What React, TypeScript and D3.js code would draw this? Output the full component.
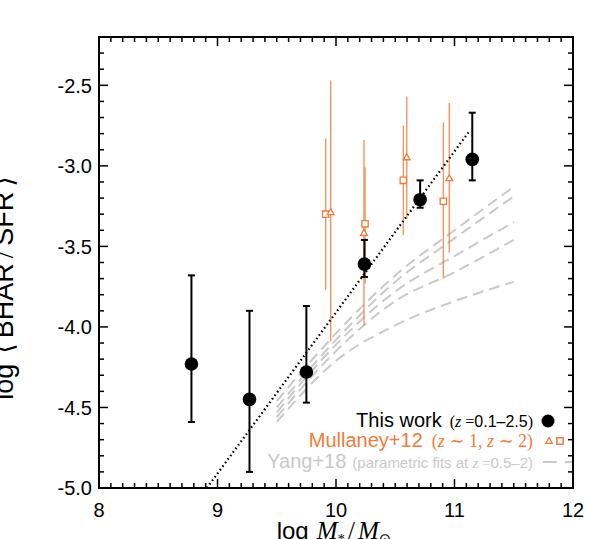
import React from "react";
import * as d3 from "d3";

const W = 598;
const H = 539;
const box = { left: 99, right: 573, top: 37, bottom: 488 };

// this work (z = 0.1-2.5)
const massBins = [8.78, 9.27, 9.75, 10.24, 10.71, 11.15];
const ratio = [-4.23, -4.45, -4.28, -3.61, -3.21, -2.96];
const ratioHi = [-3.68, -3.9, -3.87, -3.46, -3.09, -2.67];
const ratioLo = [-4.59, -4.9, -4.47, -3.69, -3.26, -3.09];

// Mullaney+12, z~1 (triangles)
const mulZ1Mass = [9.955, 10.236, 10.597, 10.956];
const mulZ1 = [-3.29, -3.42, -2.95, -3.08];
const mulZ1Hi = [-2.47, -2.84, -2.57, -2.61];
const mulZ1Lo = [-4.09, -3.99, -3.33, -3.54];

// Mullaney+12, z~2 (squares)
const mulZ2Mass = [9.913, 10.245, 10.568, 10.906];
const mulZ2 = [-3.3, -3.36, -3.09, -3.22];
const mulZ2Hi = [-2.83, -3.01, -2.75, -2.73];
const mulZ2Lo = [-3.77, -3.73, -3.43, -3.7];

// Yang+18 parametric fits, z = 0.5-2
const yangMass = [9.5, 10.0, 10.5, 11.0, 11.5];
const yangFits = [
  [-4.46, -4.04, -3.68, -3.4, -3.13],
  [-4.5, -4.08, -3.72, -3.45, -3.19],
  [-4.53, -4.11, -3.78, -3.56, -3.35],
  [-4.56, -4.15, -3.84, -3.66, -3.46],
  [-4.59, -4.21, -3.99, -3.84, -3.72],
];

// dotted one-to-one line
const fitMass = [8.91, 11.13];
const fitRatio = [-5.0, -2.78];

const xMajor = [8, 9, 10, 11, 12];
const yMajor = [-5.0, -4.5, -4.0, -3.5, -3.0, -2.5];

const ORANGE = "#f47a38";
const GRAY = "#c9c9c9";
const SANS = "'Liberation Sans', Arial, Helvetica, sans-serif";
const SERIF = "'Liberation Serif', 'DejaVu Serif', serif";

export default function App() {
  const x = d3.scaleLinear().domain([8, 12]).range([box.left, box.right]);
  const y = d3.scaleLinear().domain([-5, -2.2]).range([box.bottom, box.top]);

  const xMinor = x.ticks(40);
  const yMinor = y.ticks(28);

  const line = d3
    .line<number>()
    .x((d, i) => x(yangMass[i]))
    .y((d) => y(d))
    .curve(d3.curveMonotoneX);

  const dotted = d3
    .line<number>()
    .x((d, i) => x(fitMass[i]))
    .y((d) => y(d));

  const tri = d3.symbol().type(d3.symbolTriangle).size(20)();
  const sq = d3.symbol().type(d3.symbolSquare).size(40)();

  const isMajor = (v: number, arr: number[]) => arr.some((m) => Math.abs(m - v) < 1e-6);

  return (
    <svg width={W} height={H} style={{ position: "absolute", left: 0, top: 0, background: "#fff" }}>
      {/* Yang+18 */}
      <g fill="none" stroke={GRAY} strokeWidth={2} strokeDasharray="11 6">
        {yangFits.map((f, i) => (
          <path key={i} d={line(f) || ""} />
        ))}
      </g>

      {/* Mullaney+12 */}
      <g stroke={ORANGE} strokeWidth={1.4} strokeOpacity={0.8}>
        {mulZ2Mass.map((m, i) => (
          <line key={"e2" + i} x1={x(m)} x2={x(m)} y1={y(mulZ2Hi[i])} y2={y(mulZ2Lo[i])} />
        ))}
        {mulZ1Mass.map((m, i) => (
          <line key={"e1" + i} x1={x(m)} x2={x(m)} y1={y(mulZ1Hi[i])} y2={y(mulZ1Lo[i])} />
        ))}
      </g>
      <g fill="#fff" stroke={ORANGE} strokeWidth={1.3}>
        {mulZ2Mass.map((m, i) => (
          <path key={"s" + i} d={sq || ""} transform={`translate(${x(m)},${y(mulZ2[i])})`} />
        ))}
        {mulZ1Mass.map((m, i) => (
          <path key={"t" + i} d={tri || ""} transform={`translate(${x(m)},${y(mulZ1[i])})`} />
        ))}
      </g>

      {/* this work */}
      <g stroke="#000" strokeWidth={2}>
        {massBins.map((m, i) => (
          <g key={i}>
            <line x1={x(m)} x2={x(m)} y1={y(ratioHi[i])} y2={y(ratioLo[i])} />
            <line x1={x(m) - 3.5} x2={x(m) + 3.5} y1={y(ratioHi[i])} y2={y(ratioHi[i])} />
            <line x1={x(m) - 3.5} x2={x(m) + 3.5} y1={y(ratioLo[i])} y2={y(ratioLo[i])} />
          </g>
        ))}
      </g>
      {massBins.map((m, i) => (
        <circle key={i} cx={x(m)} cy={y(ratio[i])} r={6.8} fill="#000" />
      ))}

      <path d={dotted(fitRatio) || ""} fill="none" stroke="#000" strokeWidth={2.2} strokeDasharray="1.6 2.8" />

      {/* frame + ticks */}
      <rect x={box.left} y={box.top} width={box.right - box.left} height={box.bottom - box.top} fill="none" stroke="#000" strokeWidth={2} />
      <g stroke="#000" strokeWidth={1.5}>
        {xMinor.map((v) => {
          const len = isMajor(v, xMajor) ? 9 : 5;
          return (
            <g key={"x" + v}>
              <line x1={x(v)} x2={x(v)} y1={box.bottom} y2={box.bottom - len} />
              <line x1={x(v)} x2={x(v)} y1={box.top} y2={box.top + len} />
            </g>
          );
        })}
        {yMinor.map((v) => {
          const len = isMajor(v, yMajor) ? 9 : 5;
          return (
            <g key={"y" + v}>
              <line x1={box.left} x2={box.left + len} y1={y(v)} y2={y(v)} />
              <line x1={box.right} x2={box.right - len} y1={y(v)} y2={y(v)} />
            </g>
          );
        })}
      </g>

      <g fontFamily={SANS} fontSize={20} fill="#000">
        {xMajor.map((v) => (
          <text key={v} x={x(v)} y={517} textAnchor="middle">
            {v}
          </text>
        ))}
        {yMajor.map((v) => (
          <text key={v} x={92} y={y(v)} dy="0.36em" textAnchor="end">
            {v.toFixed(1)}
          </text>
        ))}
      </g>

      {/* axis titles */}
      <text x={334} y={539} textAnchor="middle" fontFamily={SANS} fontSize={24}>
        log
        <tspan dx={8} fontFamily={SERIF} fontStyle="italic" fontSize={25}>M</tspan>
        <tspan fontSize={15} dy={5} fontFamily={SERIF}>*</tspan>
        <tspan dy={-5} dx={3} fontFamily={SERIF} fontSize={25}>/</tspan>
        <tspan dx={3} fontFamily={SERIF} fontStyle="italic" fontSize={25}>M</tspan>
        <tspan fontSize={15} dy={5} fontFamily="'DejaVu Sans'">⊙</tspan>
      </text>
      <text transform="translate(13,288) rotate(-90)" textAnchor="middle" fontFamily={SANS} fontSize={27}>
        log
        <tspan dx={10} fontFamily="'DejaVu Sans'">⟨</tspan>
        <tspan dx={5}>BHAR</tspan>
        <tspan dx={5} fontFamily={SERIF}>/</tspan>
        <tspan dx={5}>SFR</tspan>
        <tspan dx={5} fontFamily="'DejaVu Sans'">⟩</tspan>
      </text>

      {/* legend */}
      <text x={533} y={427} textAnchor="end" fontFamily={SANS} fontSize={20} fill="#000">
        This work
        <tspan dx={8} fontSize={16} fontFamily={SERIF}>(</tspan>
        <tspan fontSize={16} fontFamily={SERIF} fontStyle="italic">z</tspan>
        <tspan fontSize={16} fontFamily={SERIF}> =</tspan>
        <tspan fontSize={16}>0.1–2.5</tspan>
        <tspan fontSize={16} fontFamily={SERIF}>)</tspan>
      </text>
      <circle cx={548} cy={421} r={6.5} fill="#000" />

      <text x={533} y={447} textAnchor="end" fontFamily={SANS} fontSize={20} fill={ORANGE}>
        Mullaney+12
        <tspan dx={9} fontSize={18} fontFamily={SERIF}>(</tspan>
        <tspan fontSize={18} fontFamily={SERIF} fontStyle="italic">z</tspan>
        <tspan fontSize={18} fontFamily={SERIF}> ∼ 1, </tspan>
        <tspan fontSize={18} fontFamily={SERIF} fontStyle="italic">z</tspan>
        <tspan fontSize={18} fontFamily={SERIF}> ∼ 2)</tspan>
      </text>
      <path d={tri || ""} transform="translate(549,441.5)" fill="#fff" stroke={ORANGE} strokeWidth={1.2} />
      <path d={sq || ""} transform="translate(560,441)" fill="#fff" stroke={ORANGE} strokeWidth={1.5} />

      <text x={533} y={468} textAnchor="end" fontFamily={SANS} fontSize={20} fill={GRAY}>
        Yang+18
        <tspan dx={6} fontSize={15}>(parametric fits at </tspan>
        <tspan fontSize={15} fontFamily={SERIF} fontStyle="italic">z</tspan>
        <tspan fontSize={15} fontFamily={SERIF}> =</tspan>
        <tspan fontSize={15}>0.5–2)</tspan>
      </text>
      <line x1={543} x2={572} y1={462} y2={462} stroke={GRAY} strokeWidth={2} strokeDasharray="14 8" />
    </svg>
  );
}
